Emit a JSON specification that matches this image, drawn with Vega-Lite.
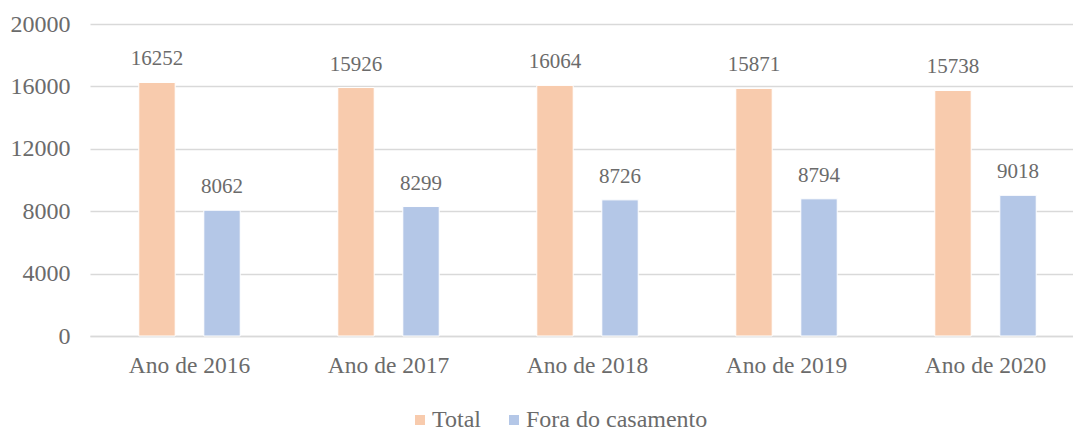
{
  "$schema": "https://vega.github.io/schema/vega-lite/v6.json",
  "autosize": {"type": "none"},
  "padding": {"left": 90, "top": 24, "right": 0, "bottom": 94},
  "width": 983,
  "height": 312,
  "background": "white",
  "config": {
    "view": {"stroke": null},
    "font": "Liberation Serif"
  },
  "data": {
    "values": [
      {"ano": "Ano de 2016", "serie": "Total", "valor": 16252},
      {"ano": "Ano de 2016", "serie": "Fora do casamento", "valor": 8062},
      {"ano": "Ano de 2017", "serie": "Total", "valor": 15926},
      {"ano": "Ano de 2017", "serie": "Fora do casamento", "valor": 8299},
      {"ano": "Ano de 2018", "serie": "Total", "valor": 16064},
      {"ano": "Ano de 2018", "serie": "Fora do casamento", "valor": 8726},
      {"ano": "Ano de 2019", "serie": "Total", "valor": 15871},
      {"ano": "Ano de 2019", "serie": "Fora do casamento", "valor": 8794},
      {"ano": "Ano de 2020", "serie": "Total", "valor": 15738},
      {"ano": "Ano de 2020", "serie": "Fora do casamento", "valor": 9018}
    ]
  },
  "encoding": {
    "x": {
      "field": "ano", "type": "nominal",
      "scale": {"range": [0, 995], "paddingInner": 0, "paddingOuter": 0},
      "axis": {
        "title": null, "labelAngle": 0, "ticks": false,
        "domainColor": "#D9D9D9", "domainWidth": 1.5,
        "labelFont": "Liberation Serif", "labelFontSize": 23.5, "labelColor": "#6b6b6b",
        "labelPadding": 17
      }
    },
    "xOffset": {
      "field": "serie", "type": "nominal",
      "sort": ["Total", "Fora do casamento"],
      "scale": {"paddingInner": 0.44, "paddingOuter": 0.75}
    },
    "y": {
      "field": "valor", "type": "quantitative",
      "scale": {"domain": [0, 20000], "nice": false},
      "axis": {
        "title": null, "values": [0, 4000, 8000, 12000, 16000, 20000],
        "ticks": false, "domain": false,
        "gridColor": "#D9D9D9", "gridWidth": 1.5,
        "labelFont": "Liberation Serif", "labelFontSize": 24, "labelColor": "#6b6b6b",
        "labelPadding": 20, "format": "d"
      }
    }
  },
  "layer": [
    {
      "mark": {"type": "bar", "stroke": "white", "strokeWidth": 1},
      "encoding": {
        "color": {
          "field": "serie", "type": "nominal",
          "sort": ["Total", "Fora do casamento"],
          "scale": {"domain": ["Total", "Fora do casamento"], "range": ["#F8CBAD", "#B4C7E7"]},
          "legend": {
            "title": null, "orient": "none", "direction": "horizontal",
            "legendX": 318, "legendY": 384,
            "symbolType": "square", "symbolSize": 100, "symbolStrokeWidth": 0,
            "labelFont": "Liberation Serif", "labelFontSize": 24, "labelColor": "#6b6b6b",
            "labelOffset": 0, "labelLimit": 400, "columnPadding": 21
          }
        }
      }
    },
    {
      "mark": {"type": "text", "dy": -23, "font": "Liberation Serif", "fontSize": 21, "color": "#6b6b6b"},
      "encoding": {
        "text": {"field": "valor", "type": "quantitative", "format": "d"}
      }
    }
  ]
}
